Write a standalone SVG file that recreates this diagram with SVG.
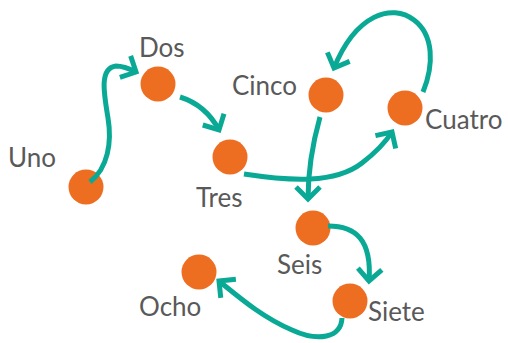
<svg xmlns="http://www.w3.org/2000/svg" width="508" height="343" viewBox="0 0 508 343">
  <style>
    .node { fill: #ED6D21; }
    .label { font-family: Lato, "Liberation Sans", sans-serif; font-size: 26px; fill: #595959; }
    .edge { fill: none; stroke: #0AA996; stroke-width: 5; stroke-linecap: butt; marker-end: url(#chev); }
  </style>
  <defs>
    <marker id="chev" markerUnits="userSpaceOnUse" markerWidth="30" markerHeight="30" refX="0" refY="0" orient="auto" overflow="visible" viewBox="-15 -15 30 30">
      <path d="M-12,-12 L0,0 L-12,12" fill="none" stroke="#0AA996" stroke-width="5" stroke-linejoin="miter"/>
    </marker>
  </defs>
  <rect width="508" height="343" fill="#FFFFFF"/>

  <g id="uno"><circle class="node" cx="86" cy="187" r="17.5"/><text class="label" x="8" y="167">Uno</text></g>
  <g id="dos"><circle class="node" cx="158" cy="84" r="17.5"/><text class="label" x="139" y="57">Dos</text></g>
  <g id="tres"><circle class="node" cx="230" cy="157" r="17.5"/><text class="label" x="196" y="207">Tres</text></g>
  <g id="cuatro"><circle class="node" cx="405" cy="108" r="17.5"/><text class="label" x="425" y="129">Cuatro</text></g>
  <g id="cinco"><circle class="node" cx="326" cy="95" r="17.5"/><text class="label" x="232" y="95">Cinco</text></g>
  <g id="seis"><circle class="node" cx="313" cy="228" r="17.5"/><text class="label" x="277" y="274">Seis</text></g>
  <g id="siete"><circle class="node" cx="350" cy="301" r="17.5"/><text class="label" x="368" y="321">Siete</text></g>
  <g id="ocho"><circle class="node" cx="199" cy="272" r="17.5"/><text class="label" x="139" y="316">Ocho</text></g>

  <g id="connectors">
    <path class="edge" d="M90,182 C108,168 112,142 108,118 C104,94 99,68 116,66 C124,66 130,69 136,72"/>
    <path class="edge" d="M180,97 C196,102 210,113 219,130"/>
    <path class="edge" d="M244,174 C290,181 335,184 362,163 C375,153 385,143 392,132"/>
    <path class="edge" d="M423,92 C434,65 434,35 414,20 C392,3 356,14 334,68"/>
    <path class="edge" d="M320,117 C313,142 308,168 308,199"/>
    <path class="edge" d="M328,226 C356,226 372,240 369,281"/>
    <path class="edge" d="M342,318 C341,338 318,342 292,330 C262,317 240,298 219,281"/>
  </g>
</svg>
